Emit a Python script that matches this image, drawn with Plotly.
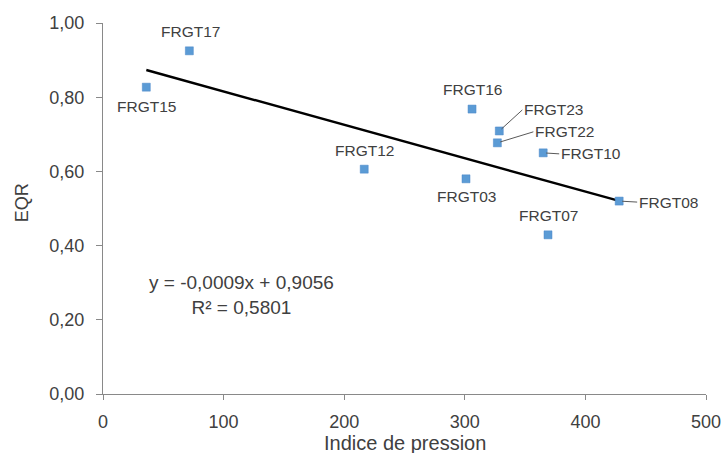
import plotly.graph_objects as go

names = ["FRGT15", "FRGT17", "FRGT12", "FRGT03", "FRGT16", "FRGT23", "FRGT22", "FRGT10", "FRGT07", "FRGT08"]
pression = [35.9, 71.6, 216.6, 301.0, 306.0, 328.6, 327.0, 365.0, 369.0, 428.0]
eqr = [0.827, 0.925, 0.606, 0.580, 0.768, 0.709, 0.677, 0.650, 0.429, 0.520]
slope = -0.0009
intercept = 0.9056
r2 = 0.5801
x_ticks = [0, 100, 200, 300, 400, 500]
y_ticks = [0.0, 0.2, 0.4, 0.6, 0.8, 1.0]
y_tick_labels = ["0,00", "0,20", "0,40", "0,60", "0,80", "1,00"]

FONT = "Liberation Sans, Arial, sans-serif"
TXT = "#404040"
AX = "#898989"

fig = go.Figure()
xl = [min(pression), max(pression)]
fig.add_trace(go.Scatter(x=xl, y=[slope * v + intercept for v in xl], mode="lines",
                         line=dict(color="black", width=2.4), hoverinfo="skip"))
fig.add_trace(go.Scatter(x=pression, y=eqr, mode="markers",
                         marker=dict(symbol="square", size=8, color="#5B9BD5",
                                     line=dict(color="#4A86C8", width=0.5))))

# label placement: (mode, dx, dy) in pixels
placement = {
    "FRGT15": ("below", 0, 19),
    "FRGT17": ("above", 1, -19),
    "FRGT12": ("above", 0, -19),
    "FRGT03": ("below", 0, 18),
    "FRGT16": ("above", 0, -20),
    "FRGT07": ("above", 0, -19),
    "FRGT23": ("leader", 23, -21),
    "FRGT22": ("leader", 36, -11),
    "FRGT10": ("leader", 16, 1),
    "FRGT08": ("leader", 18, 1),
}
for n, xv, yv in zip(names, pression, eqr):
    mode, dx, dy = placement[n]
    if mode == "leader":
        fig.add_annotation(x=xv, y=yv, text=n, showarrow=True, arrowhead=0,
                           arrowcolor="#595959", arrowwidth=1, ax=dx, ay=dy,
                           xanchor="left", standoff=3,
                           font=dict(family=FONT, size=15.5, color=TXT))
    else:
        fig.add_annotation(x=xv, y=yv, text=n, showarrow=False, xshift=dx, yshift=-dy,
                           font=dict(family=FONT, size=15.5, color=TXT))

eq_text = (f"y = {slope:.4f}x + {intercept:.4f}".replace(".", ",")
           + "<br>R² = " + f"{r2:.4f}".replace(".", ","))
fig.add_annotation(x=0.2305, y=0.267, xref="paper", yref="paper", xanchor="center", yanchor="middle",
                   text=eq_text, showarrow=False, align="center",
                   font=dict(family=FONT, size=19, color=TXT))

# axis titles
fig.add_annotation(x=0.5, y=-0.132, xref="paper", yref="paper", xanchor="center", yanchor="middle",
                   text="Indice de pression", showarrow=False,
                   font=dict(family=FONT, size=20, color=TXT))
fig.add_annotation(x=-0.134, y=0.515, xref="paper", yref="paper", xanchor="center", yanchor="middle",
                   text="EQR", showarrow=False, textangle=-90,
                   font=dict(family=FONT, size=18, color=TXT))

fig.update_layout(
    width=724, height=453,
    margin=dict(l=103, r=18, t=23, b=59),
    paper_bgcolor="white", plot_bgcolor="white",
    showlegend=False,
    font=dict(family=FONT, size=18, color=TXT),
)
fig.update_xaxes(range=[0, 500], tickvals=x_ticks, ticks="outside", ticklen=5,
                 tickcolor=AX, showline=True, linecolor=AX, linewidth=1,
                 showgrid=False, zeroline=False, automargin=False, ticklabelstandoff=6,
                 tickfont=dict(family=FONT, size=18, color=TXT))
fig.update_yaxes(range=[0, 1.0], tickvals=y_ticks, ticktext=y_tick_labels, ticks="outside", ticklen=6,
                 tickcolor=AX, showline=True, linecolor=AX, linewidth=1,
                 showgrid=False, zeroline=False, automargin=False, ticklabelstandoff=8,
                 tickfont=dict(family=FONT, size=18, color=TXT))

fig.write_html("out.html", config={"displayModeBar": False},
               post_script="document.body.style.margin='0';document.body.style.overflow='hidden';")
